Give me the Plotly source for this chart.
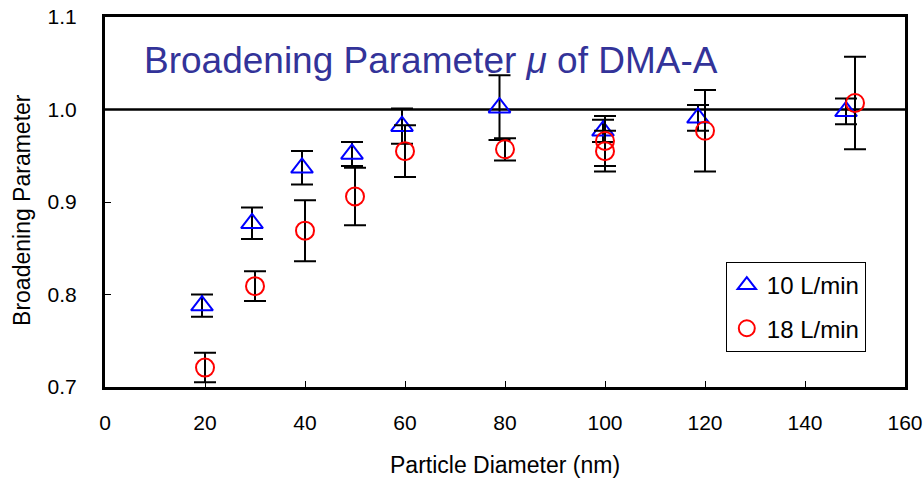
import plotly.graph_objects as go

# Particle diameters (nm), broadening parameter and its error, per flow rate
x_10 = [19.4, 29.4, 39.4, 49.4, 59.4, 78.9, 99.6, 118.6, 148.2]
y_10 = [0.788, 0.877, 0.937, 0.952, 0.982, 1.002, 0.977, 0.991, 0.998]
err_10 = [0.012, 0.017, 0.018, 0.013, 0.019, 0.035, 0.012, 0.014, 0.014]

x_18 = [20, 30, 40, 50, 60, 80, 100, 100, 120, 150]
y_18 = [0.721, 0.809, 0.869, 0.906, 0.955, 0.957, 0.966, 0.955, 0.977, 1.007]
err_18 = [0.016, 0.016, 0.033, 0.031, 0.028, 0.012, 0.027, 0.022, 0.044, 0.050]

x_ticks = [0, 20, 40, 60, 80, 100, 120, 140, 160]
y_ticks = [0.7, 0.8, 0.9, 1.0, 1.1]

FONT = "Liberation Sans, Arial, sans-serif"

fig = go.Figure()

fig.add_trace(go.Scatter(
    x=x_10, y=y_10, mode="markers", name="10 L/min", legendgroup="a",
    marker=dict(symbol="triangle-up-open", size=19, color="#0000FF",
                line=dict(width=2, color="#0000FF")),
    error_y=dict(type="data", array=err_10, visible=True,
                 color="black", thickness=2, width=11),
))

fig.add_trace(go.Scatter(
    x=x_18, y=y_18, mode="markers", name="18 L/min", legendgroup="b",
    marker=dict(symbol="circle-open", size=18, color="#FF0000",
                line=dict(width=2, color="#FF0000")),
    error_y=dict(type="data", array=err_18, visible=True,
                 color="black", thickness=2, width=11),
))

# Reference line at a broadening parameter of 1
fig.add_shape(type="line", xref="paper", yref="y", x0=0, x1=1, y0=1.0, y1=1.0,
              line=dict(color="black", width=2.5), layer="below")

fig.add_annotation(
    text="Broadening Parameter <i>μ</i> of DMA-A",
    xref="paper", yref="paper", x=0.046, y=0.883, xanchor="left", yanchor="middle",
    showarrow=False, font=dict(family=FONT, size=37, color="#333399"),
)

# Axis titles
fig.add_annotation(
    text="Particle Diameter (nm)", xref="paper", yref="paper",
    x=0.5, y=-0.211, xanchor="center", yanchor="middle", showarrow=False,
    font=dict(family=FONT, size=23, color="black"),
)
fig.add_annotation(
    text="Broadening Parameter", xref="paper", yref="paper", textangle=-90,
    x=-0.104, y=0.478, xanchor="center", yanchor="middle", showarrow=False,
    font=dict(family=FONT, size=23, color="black"),
)

fig.update_layout(
    width=924, height=478,
    margin=dict(l=105, r=19, t=17, b=91),
    paper_bgcolor="white", plot_bgcolor="white",
    font=dict(family=FONT, color="black"),
    showlegend=True,
    legend=dict(
        x=0.776, y=0.338, xanchor="left", yanchor="top",
        bgcolor="white", bordercolor="black", borderwidth=1,
        font=dict(size=24, family=FONT, color="black"),
        tracegroupgap=9,
    ),
    xaxis=dict(
        range=[0, 160], tickvals=x_ticks, ticktext=[str(v) for v in x_ticks],
        showgrid=False, zeroline=False, automargin=False,
        showline=True, linecolor="black", linewidth=3, mirror=True,
        ticks="inside", ticklen=6, tickwidth=1, tickcolor="black",
        tickfont=dict(size=21), ticklabelstandoff=15,
    ),
    yaxis=dict(
        range=[0.7, 1.1], tickvals=y_ticks, ticktext=[f"{v:.1f}" for v in y_ticks],
        showgrid=False, zeroline=False, automargin=False,
        showline=True, linecolor="black", linewidth=3, mirror=True,
        ticks="inside", ticklen=6, tickwidth=1, tickcolor="black",
        tickfont=dict(size=21), ticklabelstandoff=21,
    ),
)

fig.write_html("out.html")
